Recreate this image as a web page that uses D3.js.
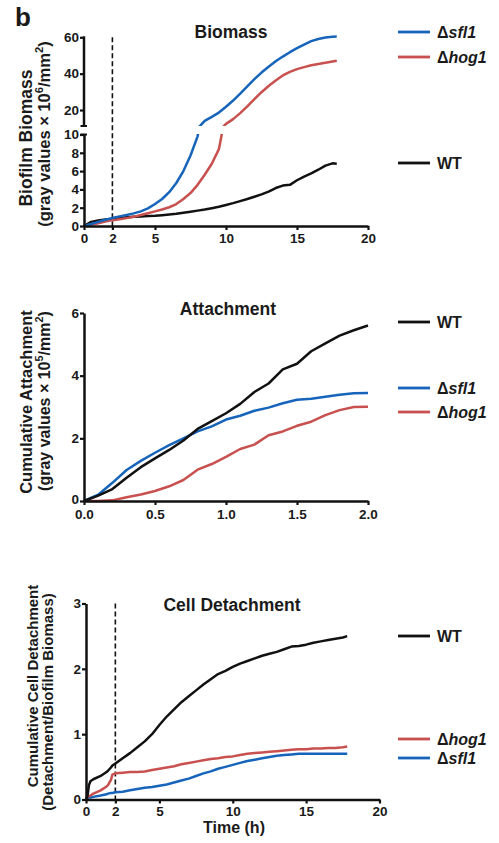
<!DOCTYPE html>
<html><head><meta charset="utf-8">
<script src="https://cdn.jsdelivr.net/npm/d3@7"></script>
<style>
body{margin:0;background:#fff}
svg text{font-family:"Liberation Sans",Arial,Helvetica,sans-serif;font-weight:bold;fill:#1a1a1a}
</style>
</head><body>
<svg id="c" width="499" height="843"></svg>
<script>
// ---------------- DATA ----------------
const seriesNames = ["WT", "sfl1", "hog1"];

// Panel 1: Biofilm biomass (gray values x 10^6/mm^2) vs time (h)
const biomassTime = [0,0.5,1,1.5,2,2.5,3,3.5,4,4.5,5,5.5,6,6.5,7,7.5,8,8.5,9,9.5,10,10.5,11,11.5,12,12.5,13,13.5,14,14.5,15,15.5,16,16.5,17,17.5,17.8];
const biomassWT   = [0,0.45,0.6,0.7,0.77,0.86,0.95,1.0,1.05,1.08,1.12,1.18,1.25,1.33,1.45,1.56,1.68,1.8,1.95,2.1,2.3,2.5,2.72,2.95,3.2,3.45,3.75,4.15,4.42,4.5,5.0,5.4,5.75,6.15,6.6,6.85,6.8];
const biomassSfl1 = [0,0.22,0.45,0.68,0.88,1.05,1.2,1.38,1.6,1.92,2.4,2.95,3.7,4.7,6.0,7.7,9.8,14.0,16.2,18.6,21.8,25.2,29.0,33.0,37.0,40.6,43.8,46.8,49.4,51.8,54.0,56.0,57.9,59.1,59.9,60.3,60.5];
const biomassHog1 = [0,0.13,0.3,0.48,0.64,0.75,0.86,1.0,1.2,1.4,1.6,1.8,2.05,2.4,2.95,3.6,4.5,5.6,6.8,8.4,12.4,15.0,18.3,22.0,26.0,29.8,33.2,36.2,39.0,41.0,42.5,43.6,44.6,45.3,46.0,46.7,47.1];
const biomassXTicks = [0,2,5,10,15,20];
const biomassYTicksLow = [0,2,4,6,8,10];
const biomassYTicksHigh = [20,40,60];

// Panel 2: Cumulative attachment (gray values x 10^5/mm^2) vs time (h)
const attachTime = [0,0.1,0.2,0.3,0.4,0.5,0.6,0.7,0.8,0.9,1.0,1.1,1.2,1.3,1.4,1.5,1.6,1.7,1.8,1.9,2.0];
const attachWT   = [0,0.17,0.38,0.74,1.08,1.36,1.63,1.93,2.3,2.55,2.8,3.1,3.48,3.75,4.2,4.38,4.78,5.03,5.28,5.45,5.6];
const attachSfl1 = [0,0.2,0.58,0.99,1.28,1.54,1.78,2.0,2.22,2.38,2.6,2.72,2.88,2.98,3.12,3.23,3.26,3.33,3.39,3.44,3.45];
const attachHog1 = [0,0,0.02,0.12,0.21,0.32,0.47,0.67,1.0,1.18,1.41,1.66,1.8,2.1,2.22,2.4,2.53,2.74,2.9,3.0,3.01];
const attachXTicks = [0,0.5,1.0,1.5,2.0];
const attachYTicks = [0,2,4,6];

// Panel 3: Cumulative cell detachment (detachment / biofilm biomass) vs time (h)
const detachTime = [0,0.1,0.2,0.3,0.5,1,1.4,1.5,1.7,1.8,2,2.5,3,3.5,4,4.5,5,5.5,6,6.5,7,7.5,8,8.5,9,9.5,10,10.5,11,11.5,12,12.5,13,13.5,14,14.5,15,15.5,16,16.5,17,17.5,17.8];
const detachWT   = [0,0.05,0.22,0.28,0.31,0.36,0.42,0.44,0.49,0.52,0.55,0.63,0.71,0.8,0.89,1.0,1.14,1.27,1.38,1.49,1.58,1.67,1.76,1.84,1.92,1.97,2.03,2.08,2.12,2.16,2.2,2.23,2.26,2.3,2.34,2.35,2.37,2.4,2.42,2.44,2.46,2.48,2.5];
const detachHog1 = [0.03,0.04,0.05,0.06,0.09,0.14,0.2,0.22,0.3,0.38,0.4,0.41,0.42,0.42,0.43,0.45,0.47,0.49,0.51,0.54,0.56,0.58,0.6,0.62,0.63,0.65,0.66,0.68,0.7,0.71,0.72,0.73,0.74,0.75,0.76,0.77,0.77,0.78,0.78,0.79,0.79,0.8,0.81];
const detachSfl1 = [0.02,0.02,0.03,0.03,0.04,0.06,0.08,0.09,0.1,0.1,0.11,0.12,0.14,0.16,0.18,0.19,0.21,0.23,0.26,0.29,0.32,0.36,0.4,0.43,0.47,0.5,0.53,0.56,0.59,0.61,0.63,0.65,0.67,0.68,0.69,0.7,0.7,0.7,0.7,0.7,0.7,0.7,0.7];
const detachXTicks = [0,2,5,10,15,20];
const detachYTicks = [0,1,2,3];

// ---------------- STYLE ----------------
const colors = {WT:"#111111", sfl1:"#1764bb", hog1:"#c8504f"};
const svg = d3.select("#c");
const FONT = '"Liberation Sans",Arial,Helvetica,sans-serif';
const LW = 2.5;

function zip(t, v){ return t.map((d,i)=>({t:d, v:v[i]})); }

function styleAxis(g, fs){
  g.selectAll("path.domain").attr("stroke","#111").attr("stroke-width",2.5);
  g.selectAll(".tick line").attr("stroke","#111").attr("stroke-width",2.2);
  g.selectAll(".tick text").attr("font-family",FONT).attr("font-weight","bold")
    .attr("font-size",fs).attr("fill","#1a1a1a");
}

function legendItem(x, y, name){
  const g = svg.append("g");
  g.append("line").attr("x1",x).attr("x2",x+32).attr("y1",y).attr("y2",y)
    .attr("stroke",colors[name]).attr("stroke-width",2.8);
  const t = g.append("text").attr("x",x+39).attr("y",y).attr("dy","0.36em").attr("font-size",16);
  if(name==="WT"){ t.text("WT"); }
  else { t.append("tspan").text("\u0394"); t.append("tspan").attr("font-style","italic").text(name); }
}

function yLabel(x, y, fs, text1, parts2, x2, y2, fs2){
  svg.append("text").attr("transform",`translate(${x},${y}) rotate(-90)`)
    .attr("text-anchor","middle").attr("font-size",fs).text(text1);
  const t = svg.append("text").attr("transform",`translate(${x2},${y2}) rotate(-90)`)
    .attr("text-anchor","middle").attr("font-size",fs2);
  parts2.forEach(p=>{
    const s = t.append("tspan").text(p.s);
    if(p.sup){ s.attr("font-size",fs2*0.68).attr("dy",-fs2*0.42); }
    if(p.after){ s.attr("dy",fs2*0.42); }
  });
}

const line = (x,y)=>d3.line().x(d=>x(d.t)).y(d=>y(d.v));
const intFmt = d3.format("d");

// ---------------- "b" ----------------
svg.append("text").attr("x",15).attr("y",26).attr("font-size",26).text("b");

// ================= PANEL 1: BIOMASS =================
{
  const x = d3.scaleLinear([0,20],[84,368]);
  const yLow = d3.scaleLinear([0,10],[226,134.5]);
  const yHigh = d3.scaleLinear([10,60],[128.2,37.3]);

  const defs = svg.append("defs");
  defs.append("clipPath").attr("id","clipLow").append("rect").attr("x",80).attr("y",134).attr("width",300).attr("height",100);
  defs.append("clipPath").attr("id","clipHigh").append("rect").attr("x",80).attr("y",20).attr("width",300).attr("height",106);

  svg.append("line").attr("x1",x(2)).attr("x2",x(2)).attr("y1",yHigh(60)).attr("y2",yLow(0))
    .attr("stroke","#111").attr("stroke-width",1.6).attr("stroke-dasharray","5,3");

  const sets = {WT:biomassWT, sfl1:biomassSfl1, hog1:biomassHog1};
  ["WT","hog1","sfl1"].forEach(k=>{
    const data = zip(biomassTime, sets[k]);
    svg.append("path").datum(data).attr("d",line(x,yLow)).attr("clip-path","url(#clipLow)")
      .attr("fill","none").attr("stroke",colors[k]).attr("stroke-width",LW).attr("stroke-linejoin","round");
    svg.append("path").datum(data).attr("d",line(x,yHigh)).attr("clip-path","url(#clipHigh)")
      .attr("fill","none").attr("stroke",colors[k]).attr("stroke-width",LW).attr("stroke-linejoin","round");
  });

  const gx = svg.append("g").attr("transform",`translate(0,${yLow(0)})`)
    .call(d3.axisBottom(x).tickValues(biomassXTicks).tickFormat(intFmt).tickSize(4).tickSizeOuter(0).tickPadding(3));
  styleAxis(gx, 13.5);
  const gyl = svg.append("g").attr("transform",`translate(${x(0)},0)`)
    .call(d3.axisLeft(yLow).tickValues(biomassYTicksLow).tickFormat(intFmt).tickSize(4).tickSizeOuter(0).tickPadding(1));
  styleAxis(gyl, 13.5);
  const gyh = svg.append("g").attr("transform",`translate(${x(0)},0)`)
    .call(d3.axisLeft(yHigh).tickValues(biomassYTicksHigh).tickFormat(intFmt).tickSize(4).tickSizeOuter(0).tickPadding(1));
  gyh.select("path.domain").remove();
  styleAxis(gyh, 13.5);
  svg.append("line").attr("x1",x(0)).attr("x2",x(0)).attr("y1",yHigh(60)-1).attr("y2",126)
    .attr("stroke","#111").attr("stroke-width",2.5);
  svg.append("line").attr("x1",x(0)-3.5).attr("x2",x(0)+3).attr("y1",126).attr("y2",126).attr("stroke","#111").attr("stroke-width",2);
  svg.append("line").attr("x1",x(0)-3.5).attr("x2",x(0)+3).attr("y1",yLow(10)).attr("y2",yLow(10)).attr("stroke","#111").attr("stroke-width",2);

  svg.append("text").attr("x",231).attr("y",38).attr("text-anchor","middle").attr("font-size",17.5).text("Biomass");

  yLabel(32,138,17.5,"Biofilm Biomass",
    [{s:"(gray values \u00d7 10"},{s:"6",sup:true},{s:"/mm",after:true},{s:"2",sup:true},{s:")",after:true}],
    50,134,16.5);

  legendItem(398,32,"sfl1");
  legendItem(398,57,"hog1");
  legendItem(398,163,"WT");
}

// ================= PANEL 2: ATTACHMENT =================
{
  const x = d3.scaleLinear([0,2],[84,368]);
  const y = d3.scaleLinear([0,6],[501,313]);
  const sets = {WT:attachWT, sfl1:attachSfl1, hog1:attachHog1};
  ["hog1","sfl1","WT"].forEach(k=>{
    svg.append("path").datum(zip(attachTime, sets[k])).attr("d",line(x,y))
      .attr("fill","none").attr("stroke",colors[k]).attr("stroke-width",LW).attr("stroke-linejoin","round");
  });
  const gx = svg.append("g").attr("transform",`translate(0,${y(0)})`)
    .call(d3.axisBottom(x).tickValues(attachXTicks).tickFormat(d3.format(".1f")).tickSize(4).tickSizeOuter(0).tickPadding(4));
  styleAxis(gx, 13.5);
  const gy = svg.append("g").attr("transform",`translate(${x(0)},0)`)
    .call(d3.axisLeft(y).tickValues(attachYTicks).tickFormat(intFmt).tickSize(4).tickSizeOuter(0).tickPadding(1));
  styleAxis(gy, 13.5);
  gy.selectAll(".tick text").filter(d=>d===0).attr("dy","0.2em");

  svg.append("text").attr("x",228).attr("y",315).attr("text-anchor","middle").attr("font-size",17.5).text("Attachment");

  yLabel(32,402,16.5,"Cumulative Attachment",
    [{s:"(gray values \u00d7 10"},{s:"5",sup:true},{s:"/mm",after:true},{s:"2",sup:true},{s:")",after:true}],
    50,401,16);

  legendItem(398,322,"WT");
  legendItem(398,388,"sfl1");
  legendItem(398,412,"hog1");
}

// ================= PANEL 3: DETACHMENT =================
{
  const x = d3.scaleLinear([0,20],[86,379.5]);
  const y = d3.scaleLinear([0,3],[799.5,603.5]);

  svg.append("line").attr("x1",x(2)).attr("x2",x(2)).attr("y1",y(3)).attr("y2",y(0))
    .attr("stroke","#111").attr("stroke-width",1.6).attr("stroke-dasharray","5,3");

  const sets = {WT:detachWT, sfl1:detachSfl1, hog1:detachHog1};
  ["sfl1","hog1","WT"].forEach(k=>{
    svg.append("path").datum(zip(detachTime, sets[k])).attr("d",line(x,y))
      .attr("fill","none").attr("stroke",colors[k]).attr("stroke-width",LW).attr("stroke-linejoin","round");
  });
  const gx = svg.append("g").attr("transform",`translate(0,${y(0)})`)
    .call(d3.axisBottom(x).tickValues(detachXTicks).tickFormat(intFmt).tickSize(4).tickSizeOuter(0).tickPadding(3));
  styleAxis(gx, 13.5);
  const gy = svg.append("g").attr("transform",`translate(${x(0)},0)`)
    .call(d3.axisLeft(y).tickValues(detachYTicks).tickFormat(intFmt).tickSize(4).tickSizeOuter(0).tickPadding(1));
  styleAxis(gy, 13.5);

  svg.append("text").attr("x",232).attr("y",611).attr("text-anchor","middle").attr("font-size",17.5).text("Cell Detachment");
  svg.append("text").attr("x",234).attr("y",833).attr("text-anchor","middle").attr("font-size",16).text("Time (h)");

  yLabel(38,686,15,"Cumulative Cell Detachment",
    [{s:"(Detachment/Biofilm Biomass)"}],
    53,702,15);

  legendItem(398,636,"WT");
  legendItem(398,739,"hog1");
  legendItem(398,758,"sfl1");
}
</script>
</body></html>
